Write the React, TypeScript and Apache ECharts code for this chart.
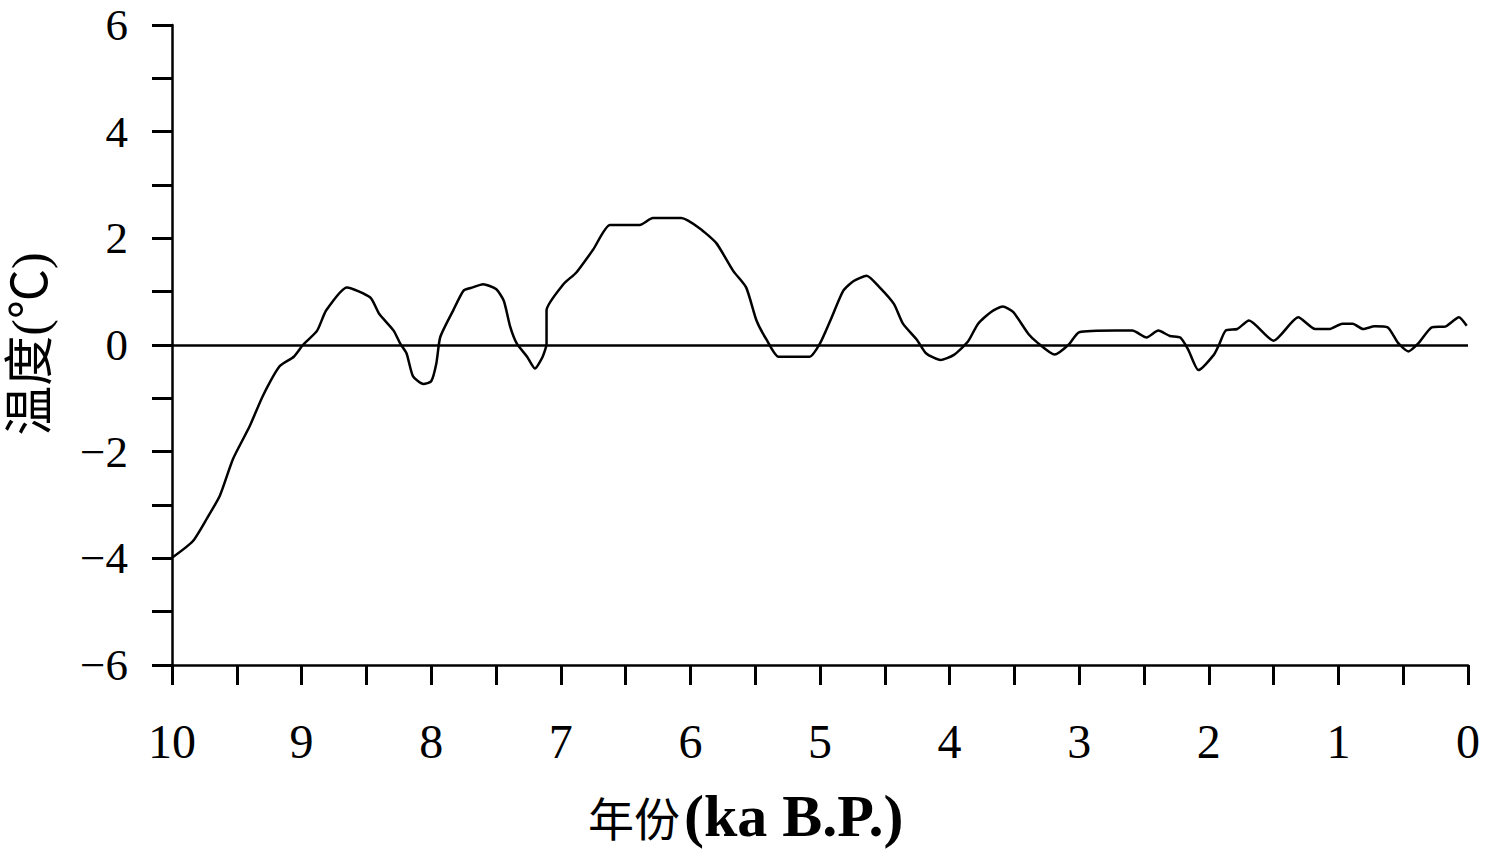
import React, { useEffect, useRef } from "react";
import * as echarts from "echarts";

const years: number[] = [
  10.0, 9.84, 9.73, 9.63, 9.53, 9.4, 9.3, 9.17, 9.06, 8.99, 8.88, 8.81, 8.65, 8.47, 8.4, 8.29, 8.24, 8.19, 8.14, 8.06,
  8.0, 7.96, 7.93, 7.83, 7.75, 7.68, 7.6, 7.5, 7.44, 7.39, 7.34, 7.26, 7.2, 7.14, 7.11, 7.11, 6.98, 6.88, 6.75, 6.62,
  6.39, 6.29, 6.07, 5.93, 5.8, 5.67, 5.57, 5.49, 5.41, 5.32, 5.08, 5.0, 4.92, 4.82, 4.74, 4.64, 4.54, 4.43, 4.36, 4.25,
  4.18, 4.07, 3.97, 3.86, 3.78, 3.68, 3.59, 3.51, 3.39, 3.32, 3.19, 3.08, 3.0, 2.72, 2.59, 2.48, 2.39, 2.3, 2.22, 2.16,
  2.08, 1.96, 1.92, 1.87, 1.78, 1.69, 1.5, 1.31, 1.18, 1.07, 0.97, 0.89, 0.81, 0.72, 0.62, 0.54, 0.46, 0.38, 0.28, 0.17,
  0.07, 0.01,
];

const temps: number[] = [
  -3.99, -3.68, -3.25, -2.82, -2.14, -1.52, -0.96, -0.4, -0.22, 0.0, 0.27, 0.65, 1.08, 0.89, 0.58, 0.27, 0.03, -0.16, -0.59, -0.73,
  -0.68, -0.34, 0.15, 0.65, 1.02, 1.08, 1.14, 1.05, 0.83, 0.34, 0.03, -0.22, -0.44, -0.22, 0.03, 0.65, 1.14, 1.36, 1.79, 2.25,
  2.25, 2.38, 2.38, 2.19, 1.91, 1.39, 1.08, 0.46, 0.09, -0.22, -0.22, 0.03, 0.46, 1.02, 1.2, 1.3, 1.08, 0.77, 0.4, 0.09,
  -0.16, -0.28, -0.19, 0.06, 0.4, 0.62, 0.72, 0.62, 0.2, 0.04, -0.18, 0.01, 0.24, 0.27, 0.27, 0.14, 0.27, 0.17, 0.14, -0.08,
  -0.47, -0.18, 0.01, 0.27, 0.3, 0.46, 0.08, 0.52, 0.3, 0.3, 0.4, 0.4, 0.3, 0.35, 0.33, 0.04, -0.12, 0.04, 0.33, 0.35,
  0.52, 0.36,
];

const xLabelValues: number[] = [0, 1, 2, 3, 4, 5, 6, 7, 8, 9, 10];
const yLabelValues: number[] = [-6, -4, -2, 0, 2, 4, 6];

const xAxisTitleCn = "年份";
const xAxisTitleEn = "(ka B.P.)";
const yAxisTitle = "温度(℃)";

const SERIF = "'Liberation Serif', 'DejaVu Serif', serif";
const CJK = "'Liberation Serif', 'Noto Sans CJK SC', serif";
const CJK_ONLY = "'Noto Sans CJK SC', serif";

export default function App() {
  const ref = useRef<HTMLDivElement>(null);

  useEffect(() => {
    if (!ref.current) return;
    const chart = echarts.init(ref.current, undefined, { renderer: "svg" });
    const data = years.map((y, i) => [y, temps[i]]);
    const fmtNum = (v: number) => (v < 0 ? "\u2212" + Math.abs(v) : String(v));

    chart.setOption({
      animation: false,
      backgroundColor: "#ffffff",
      grid: { left: 172, right: 32, top: 25, bottom: 184, containLabel: false },
      xAxis: {
        type: "value",
        inverse: true,
        min: 0,
        max: 10,
        interval: 0.5,
        axisLine: { show: true, onZero: false, lineStyle: { color: "#000", width: 2.5 } },
        axisTick: { show: true, inside: false, length: 20, lineStyle: { color: "#000", width: 3 } },
        splitLine: { show: false },
        axisLabel: {
          color: "#000",
          fontFamily: SERIF,
          fontSize: 48,
          margin: 52,
          formatter: (v: number) => (xLabelValues.includes(v) ? String(v) : ""),
        },
      },
      yAxis: {
        type: "value",
        min: -6,
        max: 6,
        interval: 1,
        axisLine: { show: true, onZero: false, lineStyle: { color: "#000", width: 2.5 } },
        axisTick: { show: true, inside: false, length: 20, lineStyle: { color: "#000", width: 3 } },
        splitLine: { show: false },
        axisLabel: {
          color: "#000",
          fontFamily: SERIF,
          fontSize: 45,
          margin: 44,
          formatter: (v: number) => (yLabelValues.includes(v) ? fmtNum(v) : ""),
        },
      },
      graphic: [
        {
          type: "text",
          x: 30,
          y: 344,
          rotation: Math.PI / 2,
          style: {
            text: yAxisTitle,
            fill: "#000",
            font: `50px ${CJK}`,
            align: "center",
            verticalAlign: "middle",
          },
        },
        {
          type: "text",
          x: 588,
          y: 816,
          style: {
            text: xAxisTitleCn,
            fill: "#000",
            font: `46px ${CJK_ONLY}`,
            align: "left",
            verticalAlign: "middle",
          },
        },
        {
          type: "text",
          x: 684,
          y: 816,
          style: {
            text: xAxisTitleEn,
            fill: "#000",
            font: `bold 60px ${SERIF}`,
            align: "left",
            verticalAlign: "middle",
          },
        },
      ],
      series: [
        {
          type: "line",
          data,
          showSymbol: false,
          symbol: "none",
          smooth: 0.2,
          lineStyle: { color: "#000", width: 2.5 },
          markLine: {
            silent: true,
            symbol: ["none", "none"],
            label: { show: false },
            lineStyle: { color: "#000", width: 2.5, type: "solid" },
            data: [{ yAxis: 0 }],
          },
        },
      ],
    });

    return () => chart.dispose();
  }, []);

  return (
    <div
      ref={ref}
      style={{ position: "fixed", left: 0, top: 0, width: 1500, height: 849, background: "#fff" }}
    />
  );
}
